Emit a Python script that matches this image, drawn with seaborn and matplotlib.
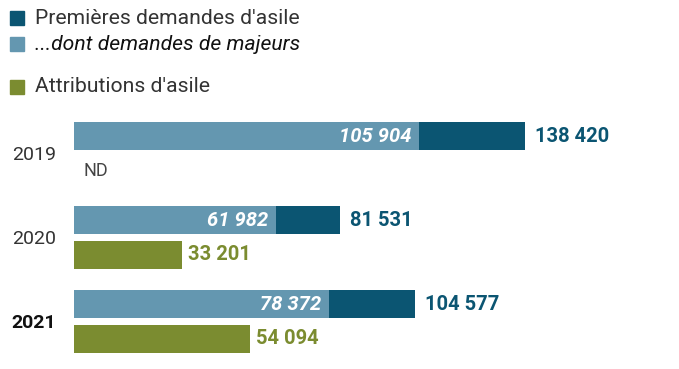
import numpy as np
import pandas as pd
import matplotlib
matplotlib.use("Agg")
import matplotlib.pyplot as plt
from matplotlib.patches import Rectangle
import seaborn as sns

# ---- data ----
years = ["2019", "2020", "2021"]
premieres = [138420, 81531, 104577]
majeurs = [105904, 61982, 78372]
attributions = [np.nan, 33201, 54094]   # 2019: ND
year_bold = [False, False, True]

legend_labels = ["Premières demandes d'asile", "...dont demandes de majeurs", "Attributions d'asile"]

C_DARK = "#0b5572"
C_LIGHT = "#6497b0"
C_OLIVE = "#7b8c30"

def fmt(v):
    return f"{int(v):,}".replace(",", " ")

sns.set_style("white")
plt.rcParams["font.family"] = ["Roboto", "DejaVu Sans"]

W, H = 679, 369
fig = plt.figure(figsize=(W / 100, H / 100), dpi=100)
ax = fig.add_axes([0, 0, 1, 1])

# layout (pixels)
x0_px = 74
scale = 451 / 138420          # px per unit
first_center, step, sub_off, bar_h = 136, 84, 35, 28

ypos_d = [first_center + i * step for i in range(len(years))]
ypos_a = [y + sub_off for y in ypos_d]

df_d = pd.DataFrame({"pos": ypos_d, "prem": premieres, "maj": majeurs})
df_a = pd.DataFrame({"pos": ypos_a, "attr": attributions}).dropna()

wd = bar_h / np.diff(sorted(df_d["pos"])).min()
wa = bar_h / np.diff(sorted(df_a["pos"])).min()

kw = dict(orient="h", native_scale=True, saturation=1, ax=ax, errorbar=None,
          linewidth=0, edgecolor="none")
sns.barplot(data=df_d, x="prem", y="pos", color=C_DARK, width=wd, **kw)
sns.barplot(data=df_d, x="maj", y="pos", color=C_LIGHT, width=wd, **kw)
sns.barplot(data=df_a, x="attr", y="pos", color=C_OLIVE, width=wa, **kw)

ax.set_xlim(-x0_px / scale, (W - x0_px) / scale)
ax.set_ylim(H, 0)
ax.axis("off")

FS = 14.5
for i, yr in enumerate(years):
    yd, ya = ypos_d[i], ypos_a[i]
    ax.annotate(fmt(premieres[i]), (premieres[i], yd), xytext=(10, 0),
                textcoords="offset pixels", ha="left", va="center",
                color=C_DARK, fontsize=FS, fontweight="bold")
    ax.annotate(fmt(majeurs[i]), (majeurs[i], yd), xytext=(-8, 0),
                textcoords="offset pixels", ha="right", va="center",
                color="white", fontsize=FS, fontweight="bold", fontstyle="italic")
    if np.isnan(attributions[i]):
        ax.annotate("ND", (0, ya), xytext=(9, 0), textcoords="offset pixels",
                    ha="left", va="center", color="#444444", fontsize=13)
    else:
        ax.annotate(fmt(attributions[i]), (attributions[i], ya), xytext=(6, 0),
                    textcoords="offset pixels", ha="left", va="center",
                    color=C_OLIVE, fontsize=FS, fontweight="bold")
    ax.annotate(yr, (0, (yd + ya) / 2 + 2), xytext=(-18, 0), textcoords="offset pixels",
                ha="right", va="center",
                color="#111111" if year_bold[i] else "#333333",
                fontsize=14, fontweight="bold" if year_bold[i] else "normal")

# legend (manual)
leg_y = [18, 44, 87]
leg_colors = [C_DARK, C_LIGHT, C_OLIVE]
leg_style = ["normal", "italic", "normal"]
leg_tc = ["#333333", "#111111", "#333333"]
for lab, ly, c, st, tc in zip(legend_labels, leg_y, leg_colors, leg_style, leg_tc):
    fig.patches.append(Rectangle((10 / W, 1 - (ly + 7) / H), 14 / W, 14 / H,
                                 transform=fig.transFigure, color=c, zorder=5))
    fig.text(35 / W, 1 - ly / H, lab, ha="left", va="center", fontsize=15.2,
             fontstyle=st, color=tc)

fig.savefig("out.png", dpi=100)
